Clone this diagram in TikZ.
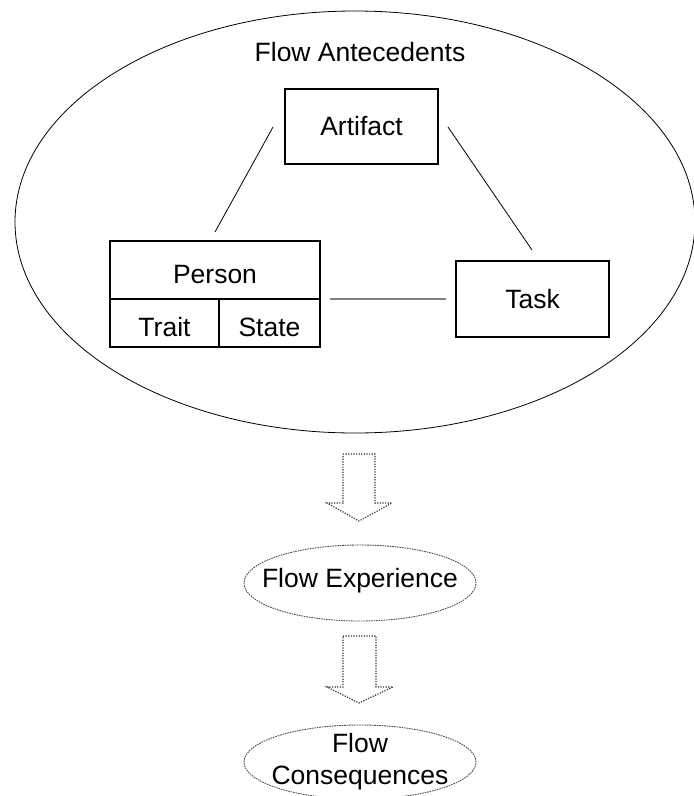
\documentclass[tikz,border=0pt]{standalone}
\usepackage{fontspec}
\setmainfont{Liberation Sans}
\usetikzlibrary{shapes.geometric}
\begin{document}
\begin{tikzpicture}[x=1pt,y=-1pt,
  txt/.style={font=\fontsize{26.5}{32}\selectfont},
  box/.style={draw, line width=1.4pt, inner sep=0pt, txt},
  link/.style={line width=0.8pt},
  ovaltext/.style={txt, inner sep=0pt, align=center},
  dashedoval/.style={draw=black!70, dash pattern=on 1.6pt off 0.9pt, line width=0.9pt},
  blockarrow/.style={draw=black!80, dash pattern=on 1.2pt off 1.4pt, line width=1.2pt}]
\useasboundingbox (0,0) rectangle (694,796);

\node[ellipse, draw, line width=0.8pt, minimum width=680pt, minimum height=422pt, inner sep=0pt] (antecedents) at (355,222) {};
\node[txt] (title) at (360,52) {Flow Antecedents};

\node[box, minimum width=153pt, minimum height=75pt] (artifact) at (361.5,126.5) {Artifact};
\node[box, minimum width=153pt, minimum height=76pt] (task) at (532.5,299) {Task};
\node[box, minimum width=210pt, minimum height=58pt, text height=28pt] (person) at (215,270) {Person};
\node[box, minimum width=109pt, minimum height=48pt, text height=28pt] (trait) at (164.5,323) {Trait};
\node[box, minimum width=101pt, minimum height=48pt, text height=28pt] (state) at (269.5,323) {State};

\coordinate (a1) at (273,127);
\coordinate (p1) at (215,232);
\coordinate (a2) at (448,127);
\coordinate (t1) at (532,250);
\coordinate (p2) at (330,299);
\coordinate (t2) at (446,299);
\draw[link] (a1) -- (p1);
\draw[link] (a2) -- (t1);
\draw[link, draw=black!50, line width=1.2pt] (p2) -- (t2);

\draw[blockarrow] (343,454) -- (375,454) -- (375,503) -- (392,503) -- (359,521) -- (327,503) -- (343,503) -- cycle;
\node[ovaltext] (experience) at (360,581) {Flow Experience};
\draw[dashedoval] (experience.center) ++(0,2) ellipse [x radius=116pt, y radius=38pt];
\draw[blockarrow] (343,636) -- (376,636) -- (376,687) -- (393,687) -- (359,703) -- (327,687) -- (343,687) -- cycle;
\node[ovaltext] (consequences) at (360,762) {Flow\\Consequences};
\draw[dashedoval] (consequences.center) ++(0,0) ellipse [x radius=116pt, y radius=37pt];
\end{tikzpicture}
\end{document}
